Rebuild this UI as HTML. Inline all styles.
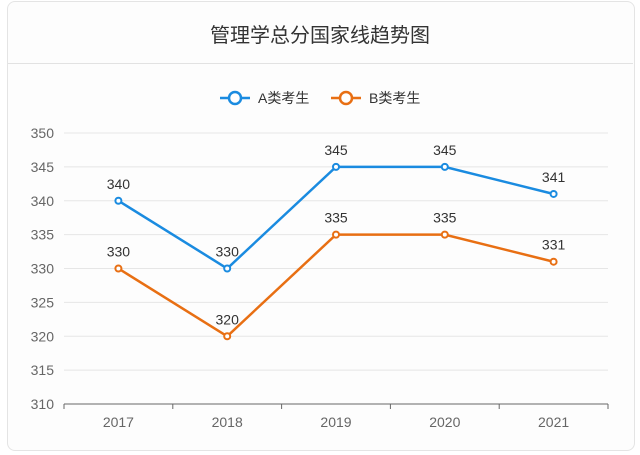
<!DOCTYPE html>
<html><head><meta charset="utf-8">
<style>
body{margin:0;background:#fff;width:640px;height:455px;overflow:hidden;font-family:"Liberation Sans","Noto Sans CJK SC",sans-serif;}
#card{position:absolute;left:7px;top:1px;width:626px;height:448px;border:1px solid #e4e4e4;border-radius:8px;background:#fdfdfd;}
#title{position:absolute;left:0;top:19px;width:640px;text-align:center;font-size:20px;color:#333;}
#divider{position:absolute;left:8px;top:63px;width:625px;height:1px;background:#e2e2e2;}
svg{position:absolute;left:0;top:0;}
</style></head><body>
<div id="card"></div>
<div id="title">管理学总分国家线趋势图</div>
<div id="divider"></div>
<svg id="chart" width="640" height="455"></svg>
<script>
const categories=["2017","2018","2019","2020","2021"];
const seriesA=[340,330,345,345,341];
const seriesB=[330,320,335,335,331];
const yTicks=[310,315,320,325,330,335,340,345,350];
const seriesNames=["A类考生","B类考生"];
const colors=["#1a8be0","#e86f13"];
const NS="http://www.w3.org/2000/svg";
const svg=document.getElementById('chart');
const x0=64,x1=608,yTop=133,yBot=404,yMin=310,yMax=350;
const band=(x1-x0)/categories.length;
const xs=i=>x0+band*(i+0.5);
const ys=v=>yBot-(v-yMin)/(yMax-yMin)*(yBot-yTop);
function mk(tag,attrs){const e=document.createElementNS(NS,tag);for(const k in attrs)e.setAttribute(k,attrs[k]);svg.appendChild(e);return e;}
yTicks.forEach(t=>{
  const g=mk('line',{x1:x0,x2:x1,y1:ys(t),y2:ys(t),stroke:t===yMin?'#666':'#e6e6e6','stroke-width':1});
  
  
  const l=mk('text',{x:54,y:ys(t)+5,'text-anchor':'end','font-size':14,fill:'#666'});
  l.textContent=t;
  
  
});
for(let i=0;i<=categories.length;i++){
  const tk=mk('line',{x1:x0+band*i,x2:x0+band*i,y1:yBot,y2:yBot+5,stroke:'#666'});
  
  
}
categories.forEach((c,i)=>{
  const l=mk('text',{x:xs(i),y:427,'text-anchor':'middle','font-size':14,fill:'#666'});
  l.textContent=c;
  
  
});
[seriesA,seriesB].forEach((s,si)=>{
  const p=mk('polyline',{points:s.map((v,i)=>xs(i)+','+ys(v)).join(' '),fill:'none',stroke:colors[si],'stroke-width':2.5});
  
  
  s.forEach((v,i)=>{
    const c=mk('circle',{cx:xs(i),cy:ys(v),r:3,fill:'#fff',stroke:colors[si],'stroke-width':2});
    
    
    const t=mk('text',{x:xs(i),y:ys(v)-12,'text-anchor':'middle','font-size':14,fill:'#333'});
    t.textContent=v;
    
    
  });
});
const legX=[220,331];
seriesNames.forEach((n,si)=>{
  const lx=legX[si];
  const l=mk('line',{x1:lx,x2:lx+30,y1:98,y2:98,stroke:colors[si],'stroke-width':2.5});
  
  
  const c=mk('circle',{cx:lx+15,cy:98,r:6,fill:'#fff',stroke:colors[si],'stroke-width':2.5});
  
  
  const t=mk('text',{x:lx+38,y:103,'font-size':14,fill:'#333'});
  t.textContent=n;
  
  
});
</script>
</body></html>
